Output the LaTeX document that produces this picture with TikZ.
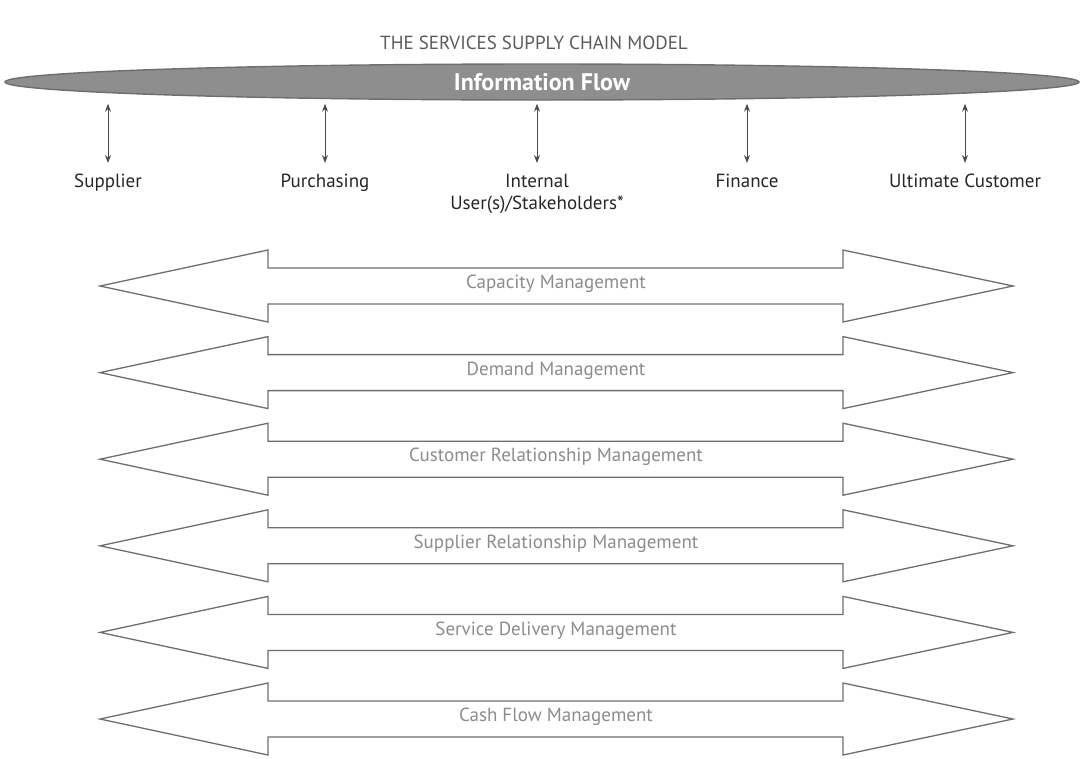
\documentclass[tikz,border=0pt]{standalone}
\usepackage{fontspec}
\setmainfont{PT Sans}
\usepackage{xcolor}
\usetikzlibrary{shapes.geometric,arrows.meta,positioning}
\definecolor{titlegray}{HTML}{5A5A5A}
\definecolor{flowgray}{HTML}{8E8E8E}
\definecolor{edgegray}{HTML}{6E6E6E}
\definecolor{bandtext}{HTML}{8C8C8C}

\begin{document}
\begin{tikzpicture}[x=1pt,y=-1pt,every node/.style={font=\fontsize{19}{22}\selectfont},flowell/.style={ellipse,draw=edgegray,line width=1.4pt,fill=flowgray,text=white,font=\fontsize{24}{28}\selectfont\bfseries,minimum width=1074pt,minimum height=36pt,inner sep=0pt},who/.style={align=center,text=black!85,inner sep=1pt},vio/.style={{Stealth[length=8pt,width=6pt]}-{Stealth[length=8pt,width=6pt]},draw=black!70,line width=0.9pt},band/.style={draw=edgegray,line width=1.3pt,fill=white,line join=miter},bandtxt/.style={text=bandtext,font=\fontsize{19}{22}\selectfont}]
\useasboundingbox (0,0) rectangle (1084,758);
\node[text=titlegray,font=\fontsize{19}{22}\selectfont] (title) at (534,43) {THE SERVICES SUPPLY CHAIN MODEL};
\node[flowell] (flow) at (542,82) {Information Flow};
% who is linked by the information flow
\foreach \x/\n/\t in {108/sup/Supplier,325/pur/Purchasing,537/int/{Internal\\User(s)/Stakeholders*},747/fin/Finance,965/ult/Ultimate Customer}{
  \node[who,anchor=north] (\n) at (\x,173) {\t};
  \draw[vio] ([yshift=-3pt]\n.north |- flow.south) -- ([yshift=10pt]\n.north);
}
% the six management processes
\foreach \y/\n/\t in {286/cap/Capacity Management,372.6/dem/Demand Management,459.2/crm/Customer Relationship Management,545.8/srm/Supplier Relationship Management,632.4/sdm/Service Delivery Management,719/cfm/Cash Flow Management}{
  \draw[band] (100,\y) -- (268,\y-36) -- (268,\y-18) -- (843,\y-18) -- (843,\y-36) -- (1013,\y) -- (843,\y+36) -- (843,\y+18) -- (268,\y+18) -- (268,\y+36) -- cycle;
  \node[bandtxt] (\n) at (556,\y-2) {\t};
}
\end{tikzpicture}
\end{document}
